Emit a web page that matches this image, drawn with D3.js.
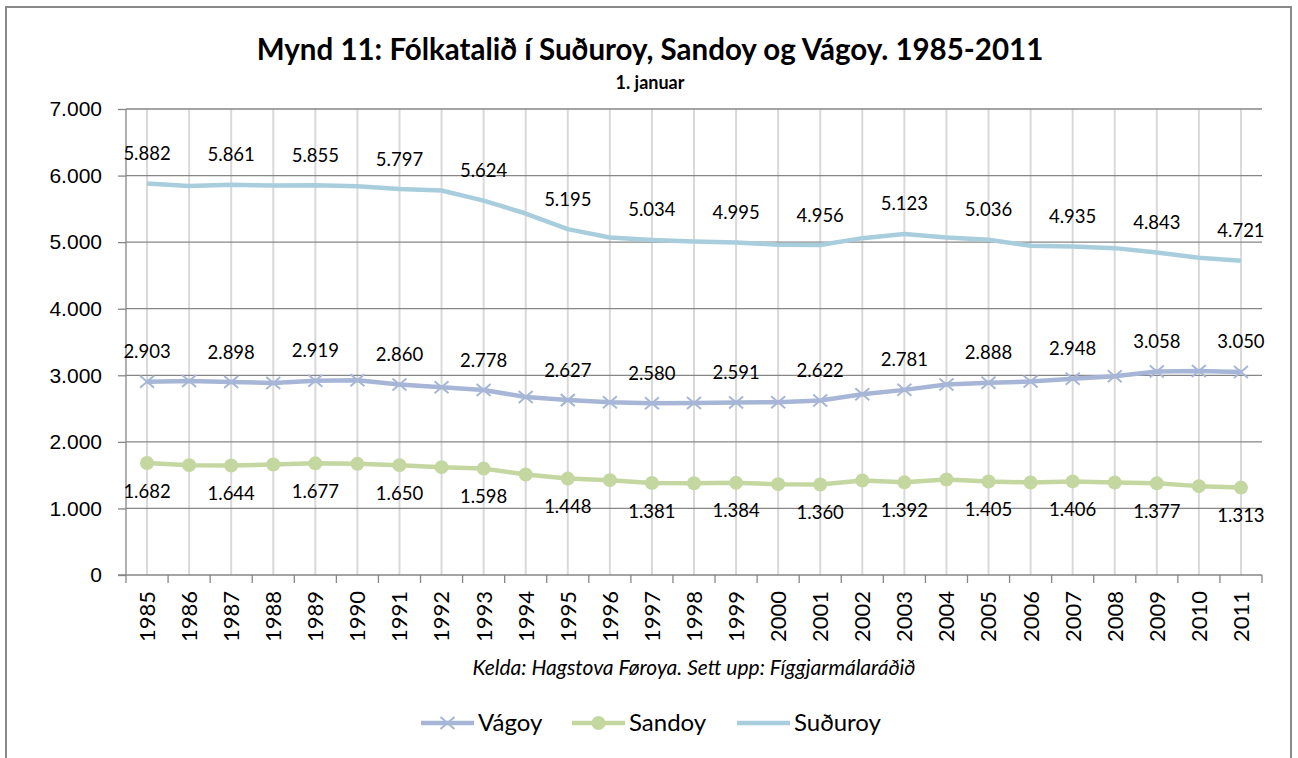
<!DOCTYPE html>
<html>
<head>
<meta charset="utf-8">
<script src="https://cdn.jsdelivr.net/npm/d3@7"></script>
<style>
  body { margin: 0; background: #fff; }
  svg { font-family: Lato, "Open Sans", sans-serif; }
  .title { font-weight: bold; font-size: 29.5px; }
  .sub { font-weight: bold; font-size: 18px; }
  .lab { font-size: 18.5px; }
  .tick text { font-size: 21px; fill: #000; }
</style>
</head>
<body>
<svg width="1298" height="758"></svg>
<script>
// year categories and population on 1. januar
var years = d3.range(1985, 2012).map(String);
var vagoy =   [2903,2915,2898,2885,2919,2925,2860,2820,2778,2675,2627,2595,2580,2585,2591,2595,2622,2715,2781,2860,2888,2905,2948,2985,3058,3065,3050];
var sandoy =  [1682,1650,1644,1660,1677,1670,1650,1620,1598,1510,1448,1425,1381,1378,1384,1365,1360,1420,1392,1435,1405,1390,1406,1390,1377,1335,1313];
var suduroy = [5882,5845,5861,5850,5855,5838,5797,5775,5624,5430,5195,5070,5034,5010,4995,4962,4956,5060,5123,5070,5036,4945,4935,4910,4843,4765,4721];
var yTicks = [0,1000,2000,3000,4000,5000,6000,7000];

var series = [
  {name: "Vágoy", values: vagoy, color: "#a7b6d6", marker: "x", labelPos: "above"},
  {name: "Sandoy", values: sandoy, color: "#c4d7a1", marker: "circle", labelPos: "below"},
  {name: "Suðuroy", values: suduroy, color: "#a8cedd", marker: "none", labelPos: "above"}
];

var fmt = function(v) { return v === 0 ? "0" : d3.format(",")(v).replace(/,/g, "."); };

var svg = d3.select("svg");

// chart frame
svg.append("rect")
  .attr("x", 6).attr("y", 7).attr("width", 1285).attr("height", 780)
  .attr("fill", "none").attr("stroke", "#898989").attr("stroke-width", 2);

var x = d3.scaleBand().domain(years).range([126, 1262]);
var y = d3.scaleLinear().domain([0, 7000]).range([575, 109]);
var cx = function(i) { return x(years[i]) + x.bandwidth() / 2; };

// vertical gridlines at categories
svg.append("g").selectAll("line")
  .data(years).enter().append("line")
  .attr("x1", function(d) { return x(d) + x.bandwidth() / 2; })
  .attr("x2", function(d) { return x(d) + x.bandwidth() / 2; })
  .attr("y1", y(7000)).attr("y2", y(0))
  .attr("stroke", "#d9d9d9").attr("stroke-width", 2);

// horizontal gridlines
svg.append("g").selectAll("line")
  .data(yTicks.slice(1)).enter().append("line")
  .attr("x1", 126).attr("x2", 1262)
  .attr("y1", function(d) { return y(d); })
  .attr("y2", function(d) { return y(d); })
  .attr("stroke", "#868686").attr("stroke-width", 1.3);

// y axis
var yAxis = svg.append("g")
  .attr("class", "y axis")
  .attr("transform", "translate(126,0)")
  .call(d3.axisLeft(y).tickValues(yTicks).tickFormat(fmt).tickSize(8).tickPadding(16));
yAxis.selectAll("line, path").attr("stroke", "#868686").attr("stroke-width", 1.3);
yAxis.select(".domain").attr("d", "M0," + y(7000) + "V" + y(0));

// x axis, ticks at band boundaries
var xAxis = svg.append("g").attr("class", "x axis");
xAxis.append("line")
  .attr("x1", 118).attr("x2", 1262).attr("y1", y(0)).attr("y2", y(0))
  .attr("stroke", "#868686").attr("stroke-width", 1.3);
xAxis.selectAll(".bt")
  .data(years.concat(["end"])).enter().append("line")
  .attr("x1", function(d, i) { return 126 + i * x.step(); })
  .attr("x2", function(d, i) { return 126 + i * x.step(); })
  .attr("y1", y(0)).attr("y2", y(0) + 8)
  .attr("stroke", "#868686").attr("stroke-width", 1.3);
xAxis.selectAll("text")
  .data(years).enter().append("text")
  .attr("transform", function(d) { return "translate(" + (x(d) + x.bandwidth() / 2) + ",591) rotate(-90)"; })
  .attr("text-anchor", "end")
  .attr("dy", "0.36em")
  .style("font-size", "22px")
  .text(function(d) { return d; });

// lines
var line = d3.line()
  .x(function(d, i) { return cx(i); })
  .y(function(d) { return y(d); });

series.forEach(function(s) {
  var g = svg.append("g").attr("class", "series");
  g.append("path")
    .datum(s.values)
    .attr("d", line)
    .attr("fill", "none")
    .attr("stroke", s.color)
    .attr("stroke-width", 4.5)
    .attr("stroke-linejoin", "round");

  if (s.marker === "circle") {
    g.selectAll("circle")
      .data(s.values).enter().append("circle")
      .attr("cx", function(d, i) { return cx(i); })
      .attr("cy", function(d) { return y(d); })
      .attr("r", 7)
      .attr("fill", s.color);
  } else if (s.marker === "x") {
    g.selectAll("path.mk")
      .data(s.values).enter().append("path")
      .attr("class", "mk")
      .attr("d", function(d, i) {
        var px = cx(i), py = y(d);
        return "M" + (px - 7) + "," + (py - 6) + "L" + (px + 7) + "," + (py + 6) +
               "M" + (px - 7) + "," + (py + 6) + "L" + (px + 7) + "," + (py - 6);
      })
      .attr("stroke", s.color).attr("stroke-width", 2).attr("fill", "none");
  }

  // data labels on every other year
  g.selectAll("text")
    .data(s.values.filter(function(d, i) { return i % 2 === 0; })).enter().append("text")
    .attr("class", "lab")
    .attr("x", function(d, i) { return cx(i * 2); })
    .attr("y", function(d) { return y(d) + (s.labelPos === "above" ? -30 : 28); })
    .attr("dy", "0.35em")
    .attr("text-anchor", "middle")
    .text(function(d) { return fmt(d); });
});

// titles
svg.append("text").attr("class", "title")
  .attr("x", 650).attr("y", 60).attr("text-anchor", "middle")
  .text("Mynd 11: Fólkatalið í Suðuroy, Sandoy og Vágoy. 1985-2011");
svg.append("text").attr("class", "sub")
  .attr("x", 650).attr("y", 89).attr("text-anchor", "middle")
  .text("1. januar");

// source
svg.append("text")
  .attr("x", 694).attr("y", 675).attr("text-anchor", "middle")
  .style("font-style", "italic").style("font-size", "21px")
  .text("Kelda: Hagstova Føroya. Sett upp: Fíggjarmálaráðið");

// legend
var legendX = [421, 572, 737];
var legend = svg.append("g").attr("class", "legend");
series.forEach(function(s, i) {
  var lg = legend.append("g").attr("transform", "translate(" + legendX[i] + ",723)");
  lg.append("line").attr("x1", 0).attr("x2", 53).attr("y1", 0).attr("y2", 0)
    .attr("stroke", s.color).attr("stroke-width", 4.5);
  if (s.marker === "circle") {
    lg.append("circle").attr("cx", 26.5).attr("cy", 0).attr("r", 7).attr("fill", s.color);
  } else if (s.marker === "x") {
    lg.append("path").attr("d", "M19.5,-6L33.5,6M19.5,6L33.5,-6")
      .attr("stroke", s.color).attr("stroke-width", 2);
  }
  lg.append("text").attr("x", 57).attr("dy", "0.35em")
    .style("font-size", "24px").text(s.name);
});
</script>
</body>
</html>
